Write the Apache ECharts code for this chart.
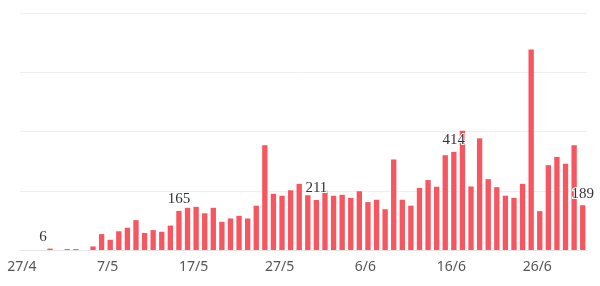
<!DOCTYPE html>
<html>
<head>
<meta charset="utf-8">
<script src="https://cdn.jsdelivr.net/npm/echarts@6/dist/echarts.min.js"></script>
<style>
html,body{margin:0;padding:0;background:#fff;}
#chart{width:600px;height:286px;}
</style>
</head>
<body>
<div id="chart"></div>
<script>
const categories = [
  '27/4','28/4','29/4','30/4',
  '1/5','2/5','3/5','4/5','5/5','6/5','7/5','8/5','9/5','10/5','11/5','12/5','13/5','14/5','15/5','16/5',
  '17/5','18/5','19/5','20/5','21/5','22/5','23/5','24/5','25/5','26/5','27/5','28/5','29/5','30/5','31/5',
  '1/6','2/6','3/6','4/6','5/6','6/6','7/6','8/6','9/6','10/6','11/6','12/6','13/6','14/6','15/6',
  '16/6','17/6','18/6','19/6','20/6','21/6','22/6','23/6','24/6','25/6','26/6','27/6','28/6','29/6','30/6',
  '1/7'
];
const values = [
  0, 0, 0, 6,
  0, 4, 4, 0, 15, 67, 43, 79, 94, 126, 72, 84, 77, 103, 165, 178,
  182, 155, 178, 119, 133, 144, 133, 187, 442, 237, 229, 252, 279, 231, 211,
  250, 229, 233, 220, 248, 202, 212, 172, 382, 212, 187, 262, 295, 267, 400,
  414, 503, 268, 471, 299, 265, 229, 220, 279, 846, 164, 358, 393, 364, 442,
  189
];
const labelledDays = ['30/4', '15/5', '31/5', '16/6', '1/7'];
const labelShift = { '30/4': -7 };

const chart = echarts.init(document.getElementById('chart'), null, {renderer: 'canvas'});
const data = values.map((v, i) => {
  const d = categories[i];
  if (labelledDays.includes(d)) {
    return {
      value: v,
      label: {
        show: true,
        position: 'top',
        distance: 4,
        offset: [labelShift[d] || 0, 0],
        fontFamily: 'Liberation Serif',
        fontSize: 15,
        fontWeight: 'normal',
        color: '#333',
        textBorderColor: '#fff',
        textBorderWidth: 2
      }
    };
  }
  return v;
});

chart.setOption({
  animation: false,
  grid: {left: 20, right: 13, top: 13, bottom: 36},
  xAxis: {
    type: 'category',
    data: categories,
    axisLine: {show: true, lineStyle: {color: '#e6e6e6'}},
    axisTick: {show: false},
    axisLabel: {
      interval: 9,
      color: '#555',
      fontFamily: 'Noto Sans',
      fontSize: 14,
      margin: 10,
      padding: [0, 5, 0, 0]
    }
  },
  yAxis: {
    type: 'value',
    min: 0,
    max: 1000,
    interval: 250,
    axisLabel: {show: false},
    axisLine: {show: false},
    axisTick: {show: false},
    splitLine: {lineStyle: {color: '#efefef'}}
  },
  series: [{
    type: 'bar',
    data: data,
    barCategoryGap: '38%',
    itemStyle: {
      color: '#f6565f'
    }
  }]
});
</script>
</body>
</html>
